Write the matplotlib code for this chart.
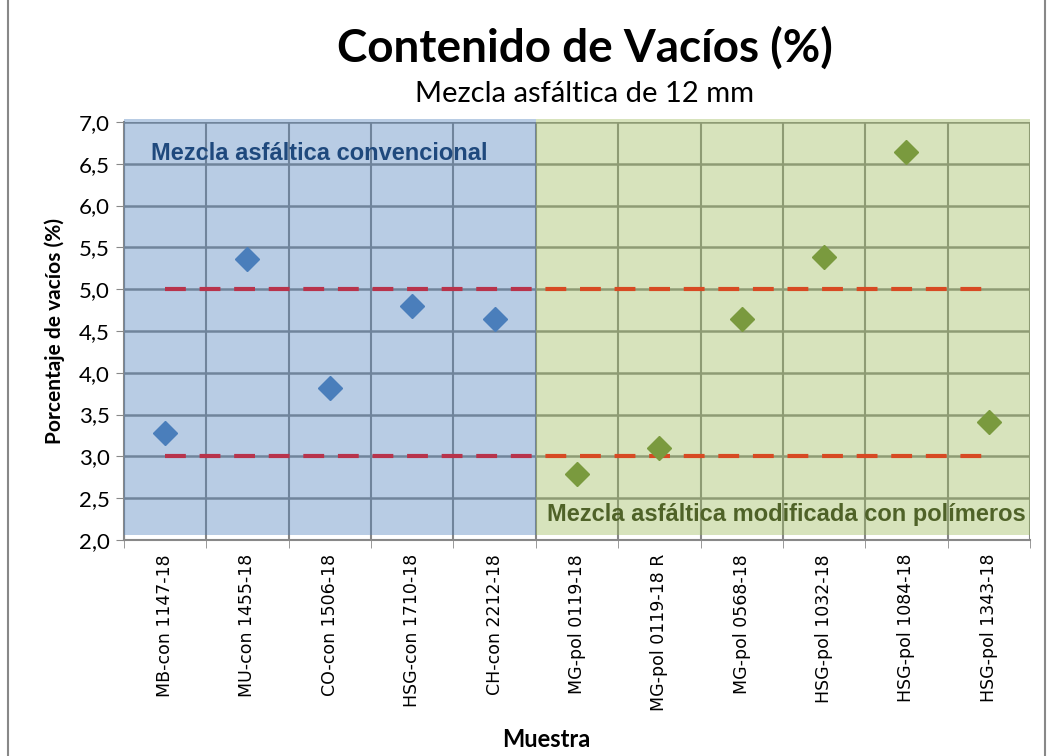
import matplotlib.pyplot as plt
from matplotlib.patches import Rectangle

muestras = ['MB-con 1147-18', 'MU-con 1455-18', 'CO-con 1506-18', 'HSG-con 1710-18',
            'CH-con 2212-18', 'MG-pol 0119-18', 'MG-pol 0119-18 R', 'MG-pol 0568-18',
            'HSG-pol 1032-18', 'HSG-pol 1084-18', 'HSG-pol 1343-18']
vacios_con = [3.28, 5.36, 3.82, 4.80, 4.64]
vacios_pol = [2.79, 3.10, 4.64, 5.38, 6.64, 3.41]
lim_sup = 5.0
lim_inf = 3.0

plt.rcParams['font.family'] = ['Lato', 'DejaVu Sans']

fig = plt.figure(figsize=(10.5, 7.56), dpi=100)
ax = fig.add_axes([0.118, 0.2857, 0.863, 0.553])

n_con = len(vacios_con)
n = len(muestras)
x_con = list(range(n_con))
x_pol = list(range(n_con, n))

# limites
ax.plot([0, n - 1], [lim_sup, lim_sup], color='#ff0000', lw=3, dashes=(5, 3.3), zorder=2)
ax.plot([0, n - 1], [lim_inf, lim_inf], color='#ff0000', lw=3, dashes=(5, 3.3), zorder=2)

ax.plot(x_con, vacios_con, 'D', color='#4a7ebb', ms=12, zorder=5)
ax.plot(x_pol, vacios_pol, 'D', color='#7a9a3e', ms=12, zorder=5)

# zonas sombreadas
ax.add_patch(Rectangle((-0.5, 2.06), n_con, 4.98, facecolor='#4f81bd', alpha=0.4,
                       lw=0, zorder=4, clip_on=False))
ax.add_patch(Rectangle((n_con - 0.5, 2.06), n - n_con, 4.98, facecolor='#9bbb59', alpha=0.4,
                       lw=0, zorder=4, clip_on=False))

ax.set_xlim(-0.5, n - 0.5)
ax.set_ylim(2.0, 7.0)
ax.set_yticks([2 + 0.5 * i for i in range(11)])
ax.set_yticklabels([('%.1f' % (2 + 0.5 * i)).replace('.', ',') for i in range(11)], fontsize=16)
ax.set_xticks(range(n))
ax.set_xticklabels(muestras, rotation=90, fontsize=12.5, va='top', family=['DejaVu Sans'])
ax.set_xticks([i - 0.5 for i in range(n + 1)], minor=True)
ax.tick_params(axis='x', which='major', length=0, pad=10)
ax.tick_params(axis='x', which='minor', length=6, color='#888888')
ax.tick_params(axis='y', length=6, color='#888888', pad=4)

ax.grid(True, axis='y', color='#868686', lw=1.8, zorder=1)
ax.grid(True, axis='x', which='minor', color='#868686', lw=1.5, zorder=1)
ax.set_axisbelow(True)
for s in ['top', 'right']:
    ax.spines[s].set_visible(False)
for s in ['left', 'bottom']:
    ax.spines[s].set_color('#888888')
    ax.spines[s].set_linewidth(1.5)

ax.text(0.03, 0.925, 'Mezcla asfáltica convencional', transform=ax.transAxes,
        family=['Liberation Sans'], fontweight='bold', fontsize=17, color='#1f497d',
        va='center', ha='left', zorder=6)
ax.text(0.995, 0.06, 'Mezcla asfáltica modificada con polímeros', transform=ax.transAxes,
        family=['Liberation Sans'], fontweight='bold', fontsize=17, color='#4f6228',
        va='center', ha='right', zorder=6)

ax.set_ylabel('Porcentaje de vacíos (%)', fontsize=15, fontweight='bold', labelpad=10)
fig.text(0.52, 0.022, 'Muestra', fontsize=17, fontweight='bold', ha='center', va='center')

fig.text(0.557, 0.937, 'Contenido de Vacíos (%)', fontsize=33, fontweight='bold',
         ha='center', va='center')
fig.text(0.557, 0.876, 'Mezcla asfáltica de 12 mm', fontsize=21, ha='center', va='center')

fig.add_artist(Rectangle((0.008, -0.01), 0.987, 1.02, transform=fig.transFigure,
                         fill=False, edgecolor='#888888', lw=1.5))

fig.savefig('out.png', dpi=100)
